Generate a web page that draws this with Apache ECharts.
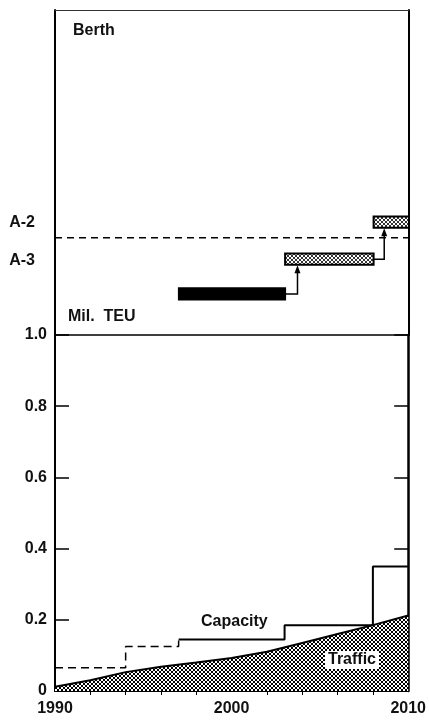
<!DOCTYPE html>
<html>
<head>
<meta charset="utf-8">
<script src="https://cdn.jsdelivr.net/npm/echarts@6/dist/echarts.min.js"></script>
<style>
  html, body { margin: 0; padding: 0; background: #fff; }
  #chart { width: 429px; height: 722px; }
</style>
</head>
<body>
<div id="chart"></div>
<script>
// berth programme (top panel)
const berthStart = [1997, 2003, 2008]
const berthEnd = [2003, 2008, 2010]
const berthLevel = [1.1, 2.03, 3.02]
const berthFill = ['solid', 'hatch', 'hatch']
const arrowX = [2003.7, 2008.6]
const dashedLevel = 2.6

// capacity steps (Mil. TEU)
const capacityYears = [1990, 1994, 1997, 2003, 2008, 2010]
const capacityValues = [0.065, 0.125, 0.145, 0.185, 0.35, 0.35]

// traffic (Mil. TEU)
const trafficYears = [1990, 1992, 1994, 1996, 1998, 2000, 2002, 2004, 2006, 2008, 2010]
const trafficValues = [0.012, 0.03, 0.053, 0.068, 0.08, 0.093, 0.11, 0.135, 0.16, 0.185, 0.212]

const xTicks = [1990, 2000, 2010]

const FONT = "'Liberation Sans', Arial, sans-serif"

function makePattern(step, width) {
  const c = document.createElement('canvas')
  c.width = c.height = step
  const ctx = c.getContext('2d')
  ctx.fillStyle = '#fff'
  ctx.fillRect(0, 0, step, step)
  ctx.strokeStyle = '#000'
  ctx.lineWidth = width
  ctx.beginPath()
  ctx.moveTo(0, 0); ctx.lineTo(step, step)
  ctx.moveTo(step, 0); ctx.lineTo(0, step)
  ctx.stroke()
  return c
}
const darkHatch = { image: makePattern(4, 1), repeat: 'repeat' }
const lightHatch = { image: makePattern(4, 0.8), repeat: 'repeat' }

const berthData = berthStart.map((s, i) => [s, berthEnd[i], berthLevel[i], i])
// connector: from end of berth i, right to arrowX, up to bottom of berth i+1
const arrowData = arrowX.map((x, i) => [berthEnd[i], x, berthLevel[i], berthLevel[i + 1] - 0.16])

const textStyle = { fontFamily: FONT, fontSize: 16, fontWeight: 'bold', color: '#111' }
const textFont = 'bold 16px ' + FONT

let option = {
  animation: false,
  backgroundColor: '#fff',
  grid: [
    { left: 55, right: 20, top: 10, height: 325 },
    { left: 55, right: 20, top: 335, height: 356 },
  ],
  xAxis: [
    {
      gridIndex: 0, type: 'value', min: 1990, max: 2010,
      axisLine: { show: false }, axisTick: { show: false },
      axisLabel: { show: false }, splitLine: { show: false },
    },
    {
      gridIndex: 0, type: 'value', position: 'top', min: 1990, max: 2010,
      axisLine: { show: true, onZero: false, lineStyle: { color: '#333', width: 1 } },
      axisTick: { show: false }, axisLabel: { show: false }, splitLine: { show: false },
    },
    {
      gridIndex: 1, type: 'value', min: 1990, max: 2010, interval: 10,
      axisLine: { show: true, onZero: false, lineStyle: { color: '#000', width: 2 } },
      axisTick: { show: false },
      minorTick: { show: true, splitNumber: 5, length: 4, lineStyle: { color: '#000', width: 1 } },
      axisLabel: {
        ...textStyle, margin: 10,
        formatter: (v) => (xTicks.includes(v) ? String(v) : ''),
      },
      splitLine: { show: false },
    },
    {
      gridIndex: 1, type: 'value', position: 'top', min: 1990, max: 2010,
      axisLine: { show: true, onZero: false, lineStyle: { color: '#000', width: 1.5 } },
      axisTick: { show: false }, axisLabel: { show: false }, splitLine: { show: false },
    },
  ],
  yAxis: [
    {
      gridIndex: 0, type: 'value', min: 0, max: 8.7, interval: 1,
      axisLine: { show: true, lineStyle: { color: '#000', width: 2 } },
      axisTick: { show: false }, splitLine: { show: false },
      axisLabel: {
        ...textStyle, margin: 20,
        formatter: (v) => (v === 2 ? 'A-3' : v === 3 ? 'A-2' : ''),
      },
    },
    {
      gridIndex: 0, type: 'value', position: 'right', min: 0, max: 8.7,
      axisLine: { show: true, lineStyle: { color: '#000', width: 2 } },
      axisTick: { show: false }, axisLabel: { show: false }, splitLine: { show: false },
    },
    {
      gridIndex: 1, type: 'value', min: 0, max: 1, interval: 0.2,
      axisLine: { show: true, lineStyle: { color: '#000', width: 2 } },
      axisTick: { show: true, inside: true, length: 14, lineStyle: { color: '#000', width: 1.5 } },
      splitLine: { show: false },
      axisLabel: {
        ...textStyle, margin: 8,
        formatter: (v) => (v === 0 ? '0' : v.toFixed(1)),
      },
    },
    {
      gridIndex: 1, type: 'value', position: 'right', min: 0, max: 1, interval: 0.2,
      axisLine: { show: true, lineStyle: { color: '#000', width: 2.5 } },
      axisTick: { show: true, inside: true, length: 14, lineStyle: { color: '#000', width: 1.5 } },
      splitLine: { show: false }, axisLabel: { show: false },
    },
  ],
  graphic: [
    { type: 'text', left: 73, top: 23, style: { text: 'Berth', font: textFont, fill: '#111' } },
    { type: 'text', left: 68, top: 309, style: { text: 'Mil.  TEU', font: textFont, fill: '#111' } },
    { type: 'text', left: 201, top: 614, style: { text: 'Capacity', font: textFont, fill: '#111' } },
    {
      type: 'text', left: 325, top: 651, z: 100,
      style: { text: 'Traffic', font: textFont, fill: '#111', backgroundColor: '#fff', padding: [1, 3] },
    },
  ],
  series: [
    {
      // berth bars
      type: 'custom',
      xAxisIndex: 0, yAxisIndex: 0,
      renderItem: (params, api) => {
        const p0 = api.coord([api.value(0), api.value(2) + 0.15])
        const p1 = api.coord([api.value(1), api.value(2) - 0.15])
        const idx = api.value(3)
        return {
          type: 'rect',
          shape: { x: p0[0], y: p0[1], width: p1[0] - p0[0], height: p1[1] - p0[1] },
          style: {
            fill: berthFill[idx] === 'solid' ? '#000' : lightHatch,
            stroke: '#000', lineWidth: 2,
          },
        }
      },
      data: berthData,
      z: 5,
    },
    {
      // arrows between berths
      type: 'custom',
      xAxisIndex: 0, yAxisIndex: 0,
      renderItem: (params, api) => {
        const a = api.coord([api.value(0), api.value(2)])
        const b = api.coord([api.value(1), api.value(2)])
        const c = api.coord([api.value(1), api.value(3)])
        return {
          type: 'group',
          children: [
            {
              type: 'polyline',
              shape: { points: [a, b, [c[0], c[1] + 6]] },
              style: { stroke: '#000', lineWidth: 1.5, fill: null },
            },
            {
              type: 'polygon',
              shape: { points: [[c[0], c[1]], [c[0] - 3, c[1] + 8], [c[0] + 3, c[1] + 8]] },
              style: { fill: '#000' },
            },
          ],
        }
      },
      data: arrowData,
      z: 4,
    },
    {
      // dashed separator
      type: 'line',
      xAxisIndex: 0, yAxisIndex: 0,
      symbol: 'none',
      lineStyle: { color: '#000', width: 1.5, type: [7, 5] },
      data: [[1990, dashedLevel], [2010, dashedLevel]],
    },
    {
      name: 'Traffic',
      type: 'line',
      xAxisIndex: 2, yAxisIndex: 2,
      symbol: 'none',
      lineStyle: { color: '#000', width: 2 },
      areaStyle: { color: darkHatch, opacity: 1 },
      data: trafficYears.map((y, i) => [y, trafficValues[i]]),
      z: 2,
    },
    {
      name: 'Capacity (planned)',
      type: 'line',
      xAxisIndex: 2, yAxisIndex: 2,
      step: 'end',
      symbol: 'none',
      lineStyle: { color: '#000', width: 1.5, type: [8, 5] },
      data: capacityYears.slice(0, 3).map((y, i) => [y, capacityValues[i]]),
      z: 3,
    },
    {
      name: 'Capacity',
      type: 'line',
      xAxisIndex: 2, yAxisIndex: 2,
      step: 'end',
      symbol: 'none',
      lineStyle: { color: '#000', width: 2 },
      data: capacityYears.slice(2).map((y, i) => [y, capacityValues[i + 2]]),
      z: 3,
    },
  ],
}

const myChart = echarts.init(document.getElementById('chart'))
myChart.setOption(option)
</script>
</body>
</html>
